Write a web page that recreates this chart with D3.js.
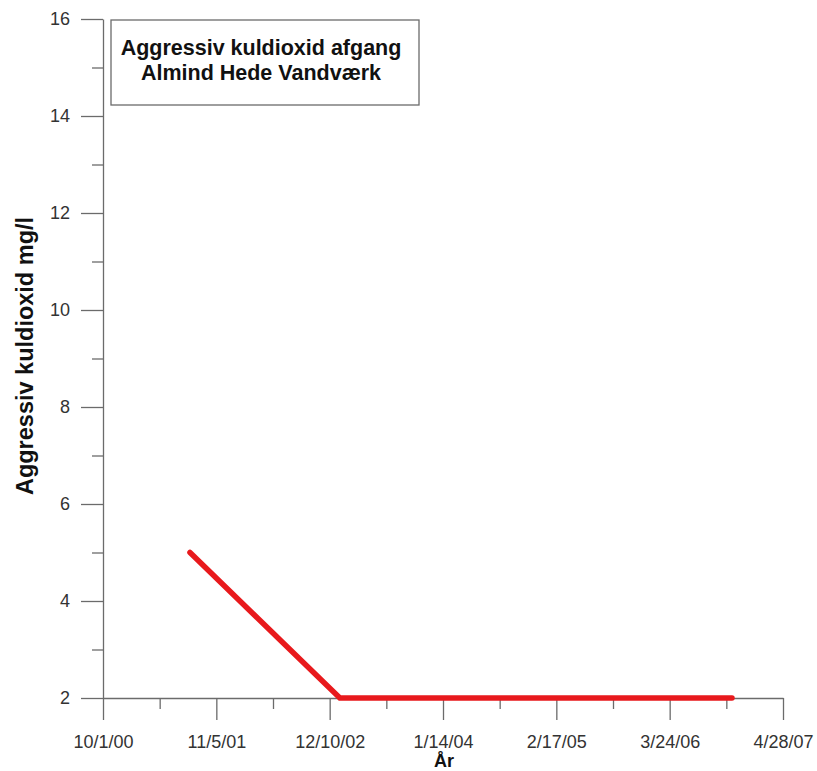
<!DOCTYPE html>
<html>
<head>
<meta charset="utf-8">
<script src="https://cdn.jsdelivr.net/npm/d3@7"></script>
<style>
  html, body { margin: 0; padding: 0; background: #fff; }
  svg { display: block; font-family: Arial, "Liberation Sans", sans-serif; }
</style>
</head>
<body>
<svg id="chart" width="817" height="771"></svg>
<script>
// Measurement dates and aggressive CO2 values (mg/l)
const sampleDates = ["2001-08-04", "2003-01-15", "2006-10-30"];
const co2Values = [5, 2, 2];

// Axis ticks
const xTickLabels = ["10/1/00", "11/5/01", "12/10/02", "1/14/04", "2/17/05", "3/24/06", "4/28/07"];
const yTickValues = [2, 4, 6, 8, 10, 12, 14, 16];

const titleLines = ["Aggressiv kuldioxid afgang", "Almind Hede Vandværk"];
const yTitle = "Aggressiv kuldioxid mg/l";
const xTitle = "År";

const parse = d3.timeParse("%Y-%m-%d");
const parseTick = d3.timeParse("%m/%d/%y");
const fmtTick = d3.timeFormat("%-m/%-d/%y");

const data = sampleDates.map((d, i) => ({ date: parse(d), value: co2Values[i] }));
const majorDates = xTickLabels.map(parseTick);
// minor ticks halfway between majors
const minorDates = majorDates.slice(0, -1).map((d, i) => new Date((+d + +majorDates[i + 1]) / 2));
const minorValues = d3.range(3, 16, 2);

const svg = d3.select("#chart");
const axisColor = "#6b6b6b";
const textColor = "#333";

const x = d3.scaleTime()
  .domain([majorDates[0], majorDates[majorDates.length - 1]])
  .range([103, 783]);
const y = d3.scaleLinear().domain([2, 16]).range([698, 19]);

// X axis: major and minor ticks pointing down
const xAxis = svg.append("g").attr("transform", `translate(0,${y(2)})`);
xAxis.call(d3.axisBottom(x).tickValues(majorDates).tickFormat(fmtTick).tickSize(22).tickPadding(15).tickSizeOuter(0));
xAxis.append("g").call(d3.axisBottom(x).tickValues(minorDates).tickFormat("").tickSize(11).tickSizeOuter(0))
  .select(".domain").remove();

// Y axis: major and minor ticks pointing left
const yAxis = svg.append("g").attr("transform", `translate(${x.range()[0]},0)`);
yAxis.call(d3.axisLeft(y).tickValues(yTickValues).tickSize(22).tickPadding(11).tickSizeOuter(0));
yAxis.append("g").call(d3.axisLeft(y).tickValues(minorValues).tickFormat("").tickSize(11).tickSizeOuter(0))
  .select(".domain").remove();

svg.selectAll(".domain, .tick line").attr("stroke", axisColor).attr("stroke-width", 1.3);
svg.selectAll(".tick text")
  .attr("fill", textColor)
  .attr("font-size", 18)
  .attr("font-family", "Arial, 'Liberation Sans', sans-serif");

// Data line
const line = d3.line().x(d => x(d.date)).y(d => y(d.value));
svg.append("path")
  .datum(data)
  .attr("d", line)
  .attr("fill", "none")
  .attr("stroke", "#e8191c")
  .attr("stroke-width", 5.5)
  .attr("stroke-linejoin", "miter")
  .attr("stroke-linecap", "round");

// Title box
svg.append("rect")
  .attr("x", 111).attr("y", 20)
  .attr("width", 308).attr("height", 85)
  .attr("fill", "#fff")
  .attr("stroke", axisColor)
  .attr("stroke-width", 1.3);
svg.append("g").selectAll("text")
  .data(titleLines)
  .join("text")
  .attr("x", 261)
  .attr("y", (d, i) => 55 + i * 25)
  .attr("text-anchor", "middle")
  .attr("font-size", 21.5)
  .attr("font-weight", "bold")
  .attr("fill", "#111")
  .text(d => d);

// Axis titles
svg.append("text")
  .attr("transform", "translate(33,356) rotate(-90)")
  .attr("text-anchor", "middle")
  .attr("font-size", 23.5)
  .attr("font-weight", "bold")
  .attr("fill", "#111")
  .text(yTitle);

svg.append("text")
  .attr("x", 444).attr("y", 767)
  .attr("text-anchor", "middle")
  .attr("font-size", 18)
  .attr("font-weight", "bold")
  .attr("fill", "#111")
  .text(xTitle);
</script>
</body>
</html>
